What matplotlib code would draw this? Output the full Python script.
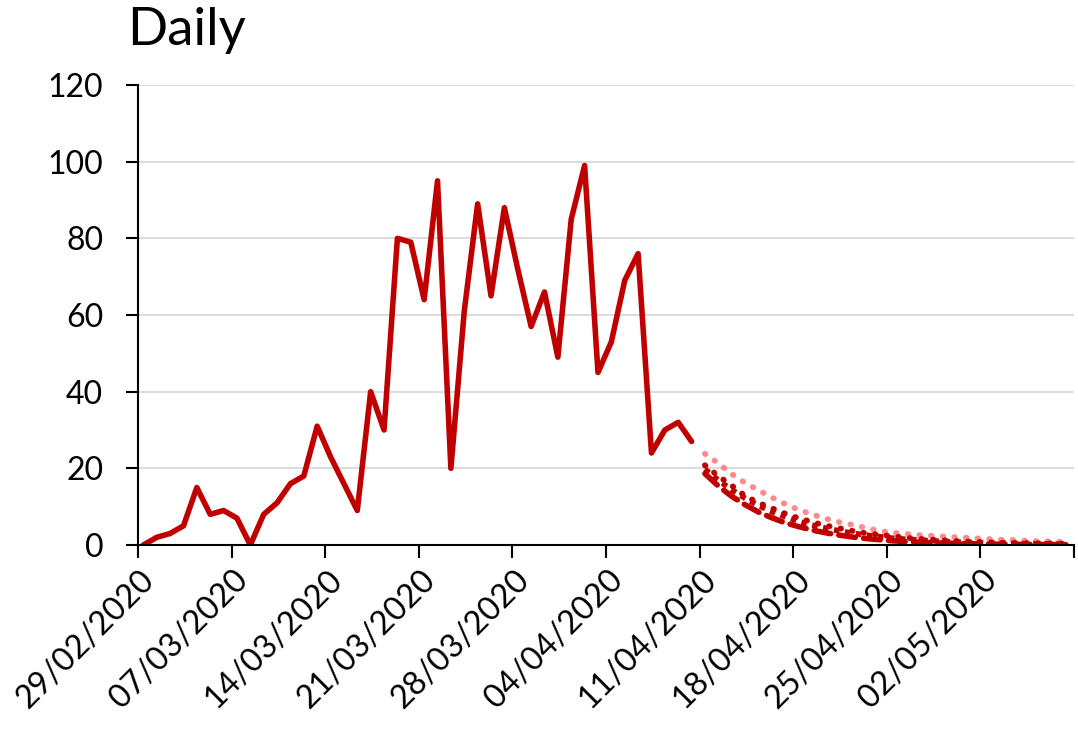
import numpy as np
import matplotlib.pyplot as plt
from matplotlib.transforms import ScaledTranslation

plt.rcParams['font.family'] = ['Lato', 'DejaVu Sans']

# dag 0 = 29/02/2020
actual = [0, 2, 3, 5, 15, 8, 9, 7, 0, 8, 11, 16, 18, 31, 23, 16, 9, 40, 30, 80,
          79, 64, 95, 20, 61, 89, 65, 88, 72, 57, 66, 49, 85, 99, 45, 53, 69, 76,
          24, 30, 32, 27]

# prognoser fra 11/04 (dag 42) til 08/05 (dag 69)
fc_light = [23.8, 21.3, 18.5, 16.2, 14.3, 12.4, 10.7, 9.2, 8.0, 6.9, 6.0, 5.3, 4.5,
            3.7, 3.2, 2.9, 2.6, 2.4, 2.2, 2.0, 1.8, 1.6, 1.4, 1.3, 1.1, 1.0, 0.9, 0.8]
fc_dot = [20.8, 18.0, 15.5, 12.8, 11.0, 9.6, 8.2, 7.0, 6.0, 5.1, 4.4, 3.7, 3.1, 2.7,
          2.3, 1.9, 1.6, 1.4, 1.2, 1.0, 0.85, 0.75, 0.65, 0.55, 0.5, 0.45, 0.4, 0.35]
fc_sq = [19.8, 16.9, 14.4, 12.2, 10.3, 8.7, 7.4, 6.2, 5.2, 4.4, 3.7, 3.1, 2.6, 2.2,
         1.8, 1.5, 1.3, 1.1, 0.9, 0.75, 0.65, 0.55, 0.45, 0.4, 0.35, 0.3, 0.25, 0.2]
fc_dash = [18.6, 15.4, 12.7, 10.5, 8.6, 7.1, 5.8, 4.8, 3.9, 3.2, 2.6, 2.1, 1.7, 1.4,
           1.1, 0.9, 0.75, 0.6, 0.5, 0.4, 0.33, 0.27, 0.22, 0.18, 0.15, 0.12, 0.1, 0.08]

tick_labels = ["29/02/2020", "07/03/2020", "14/03/2020", "21/03/2020", "28/03/2020",
               "04/04/2020", "11/04/2020", "18/04/2020", "25/04/2020", "02/05/2020", ""]

# datapunktene ligger litt etter midnatt-tickene
days = np.arange(len(actual)) + 0.4
fdays = np.arange(len(actual), len(actual) + len(fc_light)) + 0.4

fig = plt.figure(figsize=(10.78, 7.55), dpi=100)
ax = fig.add_axes([138/1078, 1-545/755, 936/1078, 460/755])

red = '#C00000'
ax.plot(fdays, fc_light, color='#FF7478', lw=4.2, ls=(0, (0.1, 1.9)), dash_capstyle='round', alpha=0.85)
ax.plot(fdays, fc_dot, color=red, lw=4.2, ls=(0, (0.1, 1.9)), dash_capstyle='round')
ax.plot(fdays, fc_sq, color=red, lw=4.0, ls=(0, (1, 1)), dash_capstyle='butt')
ax.plot(fdays, fc_dash, color=red, lw=4.0, ls=(0, (3, 1.5)), dash_capstyle='round')
ax.plot(days, actual, color=red, lw=4.0, solid_joinstyle='round', solid_capstyle='round')

ax.set_xlim(0, 70)
ax.set_ylim(0, 120)
ax.set_yticks(np.arange(0, 121, 20))
ax.set_xticks(np.arange(0, 71, 7))
ax.set_xticklabels(tick_labels, rotation=45, ha='right', va='center', rotation_mode='anchor')
ax.grid(axis='y', color='#D9D9D9', lw=1.3)
ax.set_axisbelow(True)
for s in ['top', 'right']:
    ax.spines[s].set_visible(False)
for s in ['left', 'bottom']:
    ax.spines[s].set_linewidth(1.5)
    ax.spines[s].set_zorder(5)
ax.tick_params(axis='both', length=9, width=1.5, labelsize=23, color='black')
ax.tick_params(axis='y', pad=16)
ax.tick_params(axis='x', pad=13, labelsize=23.5)
off = ScaledTranslation(12/100, 0, fig.dpi_scale_trans)
for lab in ax.get_xticklabels():
    lab.set_transform(lab.get_transform() + off)

fig.text(127/1078, 1-45/755, "Daily", fontsize=38, va='baseline', ha='left')

fig.savefig('out.png', dpi=100)
